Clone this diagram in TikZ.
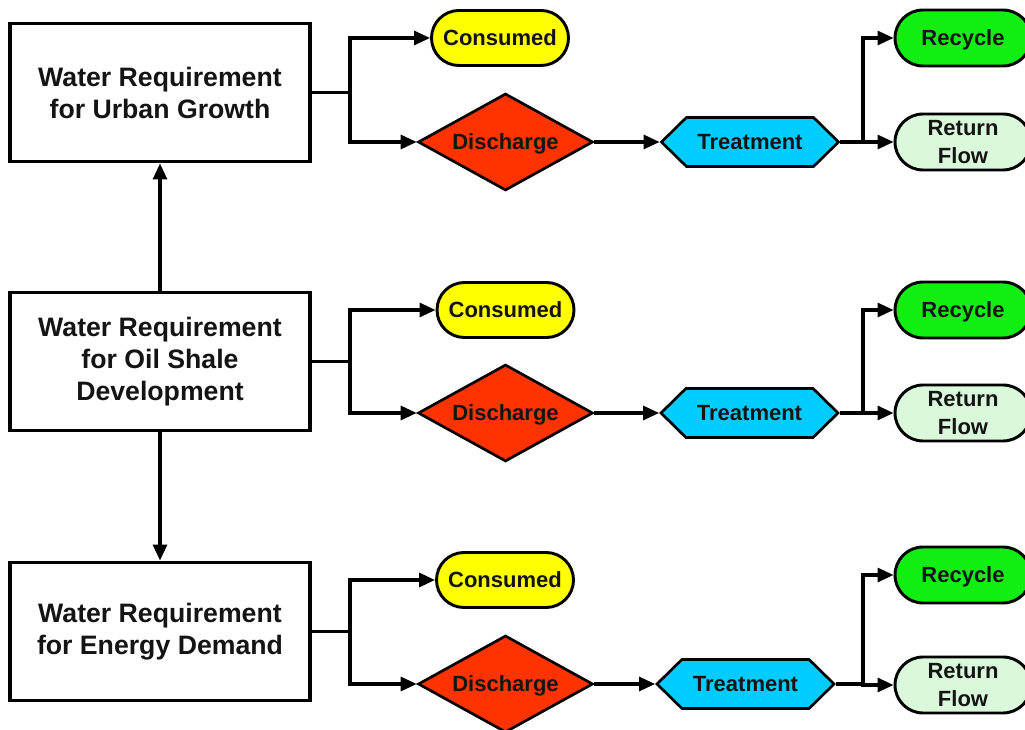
\documentclass[tikz,border=0pt]{standalone}
\usepackage{fontspec}
\setmainfont{Liberation Sans}
\usetikzlibrary{shapes.geometric,shapes.symbols,arrows.meta}
\definecolor{cyel}{HTML}{FFFF00}
\definecolor{cred}{HTML}{FF3300}
\definecolor{ccyan}{HTML}{00CCFF}
\definecolor{cgreen}{HTML}{11EE11}
\definecolor{clight}{HTML}{DAF8DA}
\definecolor{ctext}{HTML}{141414}
\tikzset{
  reqbox/.style={draw, line width=2.4pt, fill=white, minimum width=225pt, minimum height=104pt,
    align=center, font=\fontsize{20}{24}\selectfont\bfseries, inner sep=0pt, text=ctext},
  consbox/.style={draw, line width=2.2pt, fill=cyel, rounded corners=20.6pt, minimum width=102.75pt,
    minimum height=41.25pt, font=\fontsize{16.5}{20}\selectfont\bfseries, inner sep=0pt, text=ctext},
  dischbox/.style={draw, line width=2pt, fill=cred, diamond, aspect=1.8, minimum width=131.25pt,
    minimum height=72.75pt, font=\fontsize{16.5}{20}\selectfont\bfseries, inner sep=0pt,
    text depth=0pt, text=ctext},
  treatbox/.style={draw, line width=2pt, fill=ccyan, signal, signal to=west and east,
    signal pointer angle=89, minimum width=132.75pt, minimum height=36.75pt,
    font=\fontsize{16.5}{20}\selectfont\bfseries, inner sep=0pt, text=ctext},
  recbox/.style={draw, line width=2.2pt, fill=cgreen, rounded corners=21pt, minimum width=102pt,
    minimum height=42pt, font=\fontsize{16.5}{20}\selectfont\bfseries, inner sep=0pt, text=ctext,
    text depth=0pt},
  retbox/.style={recbox, fill=clight, align=center, font=\fontsize{16.5}{20.5}\selectfont\bfseries},
  link/.style={line width=2.3pt},
  arr/.style={line width=2.3pt, -{Triangle[length=12pt,width=10.5pt]}},
}
\begin{document}
\begin{tikzpicture}[x=0.75pt, y=-0.75pt]
\useasboundingbox (0,0) rectangle (1025,730);
\clip (0,0) rectangle (1025,730);

% requirement boxes
\node[reqbox] (b1) at (160,92.5) {Water Requirement\\for Urban Growth};
\node[reqbox] (b2) at (160,361.5) {Water Requirement\\for Oil Shale\\Development};
\node[reqbox] (b3) at (160,631.5) {Water Requirement\\for Energy Demand};

% row 1
\node[consbox] (c1) at (500,38) {Consumed};
\node[dischbox] (d1) at (505.5,142) {Discharge};
\node[treatbox] (t1) at (750,142) {Treatment};
\node[recbox] (r1) at (963,38) {Recycle};
\node[retbox] (f1) at (963,142) {Return\\Flow};
\coordinate (j1) at (350,92.5);
\coordinate (k1) at (863,142);

% row 2
\node[consbox] (c2) at (505.5,310) {Consumed};
\node[dischbox] (d2) at (505.5,413) {Discharge};
\node[treatbox] (t2) at (749.5,413) {Treatment};
\node[recbox] (r2) at (963,310) {Recycle};
\node[retbox] (f2) at (963,413) {Return\\Flow};
\coordinate (j2) at (350,361.5);
\coordinate (k2) at (863,413);

% row 3
\node[consbox] (c3) at (505,580) {Consumed};
\node[dischbox] (d3) at (505.5,684) {Discharge};
\node[treatbox] (t3) at (745.5,684) {Treatment};
\node[recbox] (r3) at (963,575) {Recycle};
\node[retbox] (f3) at (963,685) {Return\\Flow};
\coordinate (j3) at (350,631.5);
\coordinate (k3) at (863,684);

% connectors
\foreach \i in {1,2,3}{
  \draw[link] (b\i.east) -- (j\i);
  \draw[arr] (j\i) |- (c\i.west);
  \draw[arr] (j\i) |- (d\i.west);
  \draw[arr] (d\i.east) -- (t\i.west);
  \draw[link] (t\i.east) -- (k\i);
  \draw[arr] (k\i) |- (r\i.west);
  \draw[arr] (k\i) |- (f\i.west);
}
\draw[arr] (b2.north) -- (b1.south);
\draw[arr] (b2.south) -- (b3.north);
\end{tikzpicture}
\end{document}
